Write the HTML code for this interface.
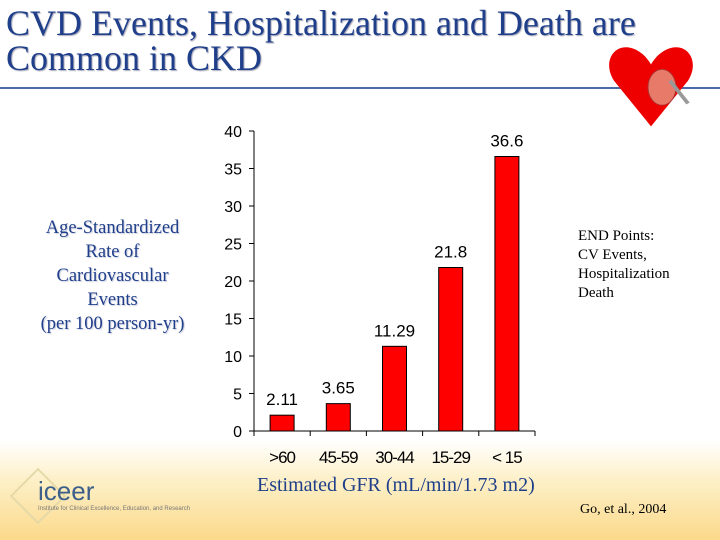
<!DOCTYPE html>
<html><head><meta charset="utf-8"><style>
body{margin:0;width:720px;height:540px;overflow:hidden;position:relative;font-family:"Liberation Serif",serif;
background:linear-gradient(to bottom,#fff 0px,#fff 440px,#fdf0c8 480px,#fbd98a 540px);}
.t{position:absolute;color:#1f3f8a;white-space:nowrap;}
</style></head><body>
<div class="t" style="left:6px;top:6px;font-size:36px;line-height:35px;text-shadow:1px 1px 1px #aab;transform:scaleX(1.0);transform-origin:left top;">CVD Events, Hospitalization and Death are<br>Common in CKD</div>
<div style="position:absolute;left:0;top:87px;width:720px;height:2px;background:#4a6aa8"></div>
<svg style="position:absolute;left:606px;top:40px" width="90" height="88" viewBox="0 0 90 108" preserveAspectRatio="none">
<path d="M45 106 L8 50 C-5 25 10 0 30 12 C38 17 42 24 45 30 C48 24 52 17 60 12 C80 0 95 25 82 50 Z" fill="#e00"/>
<ellipse cx="56" cy="58" rx="14" ry="22" fill="#e87a6a" stroke="#a33"/>
<line x1="64" y1="50" x2="82" y2="78" stroke="#999" stroke-width="4"/>
</svg>
<div class="t" style="left:20px;top:216px;width:185px;text-align:center;font-size:18.5px;line-height:24px;color:#1f3f8a;text-shadow:1px 1px 1px #ccd;">Age-Standardized<br>Rate of<br>Cardiovascular<br>Events<br>(per 100 person-yr)</div>
<div class="t" style="left:578px;top:227px;font-size:15px;line-height:19px;color:#000;">END Points:<br>CV Events,<br>Hospitalization<br>Death</div>
<div class="t" style="left:257px;top:474px;font-size:20px;color:#1f3f8a;">Estimated GFR (mL/min/1.73 m2)</div>
<div class="t" style="left:580px;top:502px;font-size:14px;color:#000;">Go, et al., 2004</div>
<div style="position:absolute;left:12px;top:470px;width:200px;height:60px;">
<div style="position:absolute;left:6px;top:6px;width:36px;height:36px;border:2px solid #e6d9a8;transform:rotate(45deg)"></div>
<div style="position:absolute;left:26px;top:6px;font-family:'Liberation Sans',sans-serif;font-size:26px;color:#3b5f8a;">iceer</div>
<div style="position:absolute;left:26px;top:36px;font-family:'Liberation Sans',sans-serif;font-size:6px;color:#777;">Institute for Clinical Excellence, Education, and Research</div>
</div>
<svg id="chart" style="position:absolute;left:0;top:0" width="720" height="540"></svg>
<script>
const categories=[">60","45-59","30-44","15-29","< 15"];
const values=[2.11,3.65,11.29,21.8,36.6];
const labels=["2.11","3.65","11.29","21.8","36.6"];
const yTicks=[0,5,10,15,20,25,30,35,40];
const svg=document.getElementById('chart');const NS='http://www.w3.org/2000/svg';
const x0=254,x1=535,y0=431,y1=131,ymax=40;
const cw=(x1-x0)/categories.length;
const ys=v=>y0-(v/ymax)*(y0-y1);const xc=i=>x0+cw*(i+0.5);
function mk(t,a){const e=document.createElementNS(NS,t);for(const k in a)e.setAttribute(k,a[k]);svg.appendChild(e);return e;}
const yl=mk('line',{x1:x0,y1:y1,x2:x0,y2:y0,stroke:'#000'});


const xl=mk('line',{x1:x0,y1:y0,x2:x1,y2:y0,stroke:'#000'});


yTicks.forEach(v=>{
 mk('line',{x1:x0-5,y1:ys(v),x2:x0,y2:ys(v),stroke:'#000'});
 const t=mk('text',{x:x0-12,y:ys(v)+6,'text-anchor':'end','font-family':'Liberation Sans,sans-serif','font-size':16});
 t.textContent=v;
 
 
});
for(let i=0;i<=categories.length;i++)mk('line',{x1:x0+cw*i,y1:y0,x2:x0+cw*i,y2:y0+5,stroke:'#000'});
categories.forEach((c,i)=>{
 const r=mk('rect',{x:xc(i)-12,y:ys(values[i]),width:24,height:y0-ys(values[i]),fill:'#f00',stroke:'#000','stroke-width':1});
 
 
 const l=mk('text',{x:xc(i),y:ys(values[i])-10,'text-anchor':'middle','font-family':'Liberation Sans,sans-serif','font-size':17});
 l.textContent=labels[i];
 
 
 const t=mk('text',{x:xc(i),y:y0+32,'text-anchor':'middle','font-family':'Liberation Sans,sans-serif','font-size':17,'letter-spacing':'-1'});
 t.textContent=c;
 
 
});
</script>
</body></html>
